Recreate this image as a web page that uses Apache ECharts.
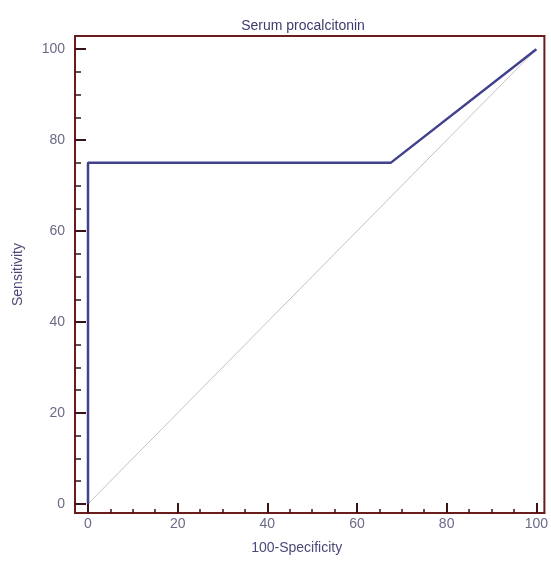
<!DOCTYPE html>
<html><head><meta charset="utf-8">
<script src="https://cdn.jsdelivr.net/npm/echarts@6/dist/echarts.min.js"></script>
<style>html,body{margin:0;padding:0;background:#fff}#c{width:551px;height:563px}</style>
</head><body><div id="c"></div>
<script>
const titleText = "Serum procalcitonin";
const xName = "100-Specificity";
const yName = "Sensitivity";
const rocX = [0, 0, 67.5, 100];
const rocY = [0, 75, 75, 100];
const diagX = [0, 100];
const diagY = [0, 100];
const majorTicks = [0, 20, 40, 60, 80, 100];
const minorTicks = [5, 10, 15, 25, 30, 35, 45, 50, 55, 65, 70, 75, 85, 90, 95];

const frame = '#6a1c1c';
const tickCol = '#3a1414';
const labelCol = '#6a6a88';
const font = 'Liberation Sans, Arial, sans-serif';

const chart = echarts.init(document.getElementById('c'), null, {renderer: 'canvas'});
const xr = {min: -2.9, max: 101.8};
const yr = {min: -2.0, max: 102.9};
chart.setOption({
  animation: false,
  title: {text: titleText, left: 298, top: 14, textAlign: 'center',
    textStyle: {fontFamily: font, fontSize: 14, fontWeight: 'normal', color: '#3b3b6e'}},
  grid: {left: 75, right: 4, top: 36, bottom: 50, show: true, borderColor: frame, borderWidth: 2, backgroundColor: 'transparent'},
  xAxis: [{
    type: 'value', min: xr.min, max: xr.max, position: 'bottom',
    name: xName, nameLocation: 'middle', nameGap: 28,
    nameTextStyle: {fontFamily: font, fontSize: 14, color: '#4a4a78', padding: [0, 26, 0, 0]},
    axisLine: {show: true, onZero: false, lineStyle: {color: frame, width: 2}},
    axisTick: {show: true, inside: true, length: 10, customValues: majorTicks, lineStyle: {color: tickCol, width: 2}},
    axisLabel: {show: true, customValues: majorTicks, margin: 4, fontFamily: font, fontSize: 14, color: labelCol},
    splitLine: {show: false}
  }, {
    type: 'value', min: xr.min, max: xr.max, position: 'bottom',
    axisLine: {show: false, onZero: false},
    axisTick: {show: true, inside: true, length: 4, customValues: minorTicks, lineStyle: {color: tickCol, width: 1.5}},
    axisLabel: {show: false}, splitLine: {show: false}
  }],
  yAxis: [{
    type: 'value', min: yr.min, max: yr.max, position: 'left',
    name: yName, nameLocation: 'middle', nameGap: 50,
    nameTextStyle: {fontFamily: font, fontSize: 14, color: '#4a4a78'},
    axisLine: {show: true, onZero: false, lineStyle: {color: frame, width: 2}},
    axisTick: {show: true, inside: true, length: 11, customValues: majorTicks, lineStyle: {color: tickCol, width: 2}},
    axisLabel: {show: true, customValues: majorTicks, margin: 10, fontFamily: font, fontSize: 14, color: labelCol},
    splitLine: {show: false}
  }, {
    type: 'value', min: yr.min, max: yr.max, position: 'left',
    axisLine: {show: false, onZero: false},
    axisTick: {show: true, inside: true, length: 6, customValues: minorTicks, lineStyle: {color: tickCol, width: 1.5}},
    axisLabel: {show: false}, splitLine: {show: false}
  }],
  series: [{
    type: 'line', xAxisIndex: 0, yAxisIndex: 0, symbol: 'none', silent: true,
    data: diagX.map((x, i) => [x, diagY[i]]),
    lineStyle: {color: '#c9c0c0', width: 1}, z: 1
  }, {
    type: 'line', xAxisIndex: 0, yAxisIndex: 0, symbol: 'none', silent: true,
    data: rocX.map((x, i) => [x, rocY[i]]),
    lineStyle: {color: '#41418e', width: 2.5}, z: 2
  }]
});
</script></body></html>
